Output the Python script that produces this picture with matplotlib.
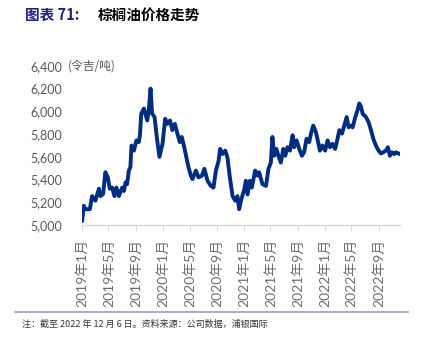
import numpy as np
import pandas as pd
import matplotlib
matplotlib.use("Agg")
import matplotlib.pyplot as plt
import matplotlib.dates as mdates

plt.rcParams['font.family'] = ['Lato', 'Noto Sans CJK SC', 'DejaVu Sans']

# 棕榈油价格 (令吉/吨)
dates = [
    "2019-01-02", "2019-01-10", "2019-01-17", "2019-02-06", "2019-02-16", "2019-03-03",
    "2019-03-19", "2019-03-26", "2019-04-07", "2019-04-17", "2019-04-28", "2019-05-07",
    "2019-05-18", "2019-05-28", "2019-06-06", "2019-06-17", "2019-07-02", "2019-07-10",
    "2019-07-17", "2019-07-24", "2019-08-01", "2019-08-08", "2019-08-13", "2019-08-24",
    "2019-09-04", "2019-09-15", "2019-09-20", "2019-09-26", "2019-10-08", "2019-10-23",
    "2019-10-30", "2019-11-07", "2019-11-14", "2019-11-25", "2019-12-07", "2019-12-17",
    "2019-12-31", "2020-01-12", "2020-01-22", "2020-02-03", "2020-02-13", "2020-02-25",
    "2020-03-07", "2020-03-18", "2020-03-27", "2020-04-07", "2020-04-17", "2020-04-26",
    "2020-05-07", "2020-05-14", "2020-05-30", "2020-06-10", "2020-06-26", "2020-07-07",
    "2020-07-21", "2020-08-05", "2020-08-17", "2020-08-28", "2020-09-09", "2020-09-16",
    "2020-09-27", "2020-10-09", "2020-10-19", "2020-10-30", "2020-11-11", "2020-11-23",
    "2020-12-03", "2020-12-11", "2020-12-19", "2021-01-03", "2021-01-10", "2021-01-18",
    "2021-01-28", "2021-02-06", "2021-02-21", "2021-03-04", "2021-03-11", "2021-03-26",
    "2021-04-11", "2021-04-22", "2021-05-03", "2021-05-10", "2021-05-18", "2021-05-28",
    "2021-06-06", "2021-06-17", "2021-06-28", "2021-07-07", "2021-07-17", "2021-07-28",
    "2021-08-09", "2021-08-16", "2021-08-27", "2021-09-08", "2021-09-20", "2021-09-30",
    "2021-10-11", "2021-10-23", "2021-10-31", "2021-11-10", "2021-11-22", "2021-12-04",
    "2021-12-10", "2021-12-22", "2021-12-30", "2022-01-03", "2022-01-14", "2022-01-25",
    "2022-02-05", "2022-02-17", "2022-02-28", "2022-03-08", "2022-03-20", "2022-03-30",
    "2022-04-10", "2022-04-19", "2022-04-30", "2022-05-07", "2022-05-19", "2022-05-29",
    "2022-06-06", "2022-06-14", "2022-06-21", "2022-07-06", "2022-07-18", "2022-07-29",
    "2022-08-08", "2022-08-20", "2022-09-01", "2022-09-12", "2022-09-22", "2022-10-04",
    "2022-10-13", "2022-10-22", "2022-10-31", "2022-11-11", "2022-11-18", "2022-11-30",
    "2022-12-06",
]
price = [
    5035, 5170, 5140, 5140, 5255, 5215,
    5320, 5255, 5275, 5465, 5420, 5320,
    5330, 5255, 5330, 5255, 5330, 5300,
    5375, 5360, 5480, 5510, 5700, 5655,
    5745, 5730, 5790, 5980, 6025, 5920,
    6010, 6200, 5980, 5950, 5745, 5600,
    5715, 5935, 5890, 5920, 5835, 5890,
    5805, 5730, 5775, 5685, 5595, 5510,
    5435, 5405, 5480, 5420, 5435, 5495,
    5390, 5345, 5330, 5480, 5565, 5670,
    5625, 5655, 5595, 5420, 5255, 5215,
    5255, 5140, 5215, 5315, 5390, 5270,
    5390, 5330, 5480, 5435, 5465, 5360,
    5345, 5495, 5550, 5775, 5610, 5670,
    5610, 5550, 5670, 5610, 5685, 5655,
    5790, 5685, 5745, 5670, 5610, 5640,
    5760, 5730, 5805, 5875, 5820, 5715,
    5655, 5700, 5670, 5655, 5745, 5685,
    5715, 5670, 5760, 5835, 5805, 5875,
    5950, 5860, 5875, 5860, 5950, 6010,
    6070, 6040, 5980, 5950, 5905, 5835,
    5760, 5700, 5655, 5630, 5640, 5655,
    5685, 5610, 5640, 5625, 5640, 5630,
    5625,
]

tick_dates = pd.date_range("2019-01-01", "2022-09-01", freq="4MS")
tick_labels = [f"{d.year}年{d.month}月" for d in tick_dates]
y_ticks = [5000, 5200, 5400, 5600, 5800, 6000, 6200, 6400]

gray = "#595959"
fig = plt.figure(figsize=(4.22, 3.38), dpi=100)
ax = fig.add_axes([0.194, 0.334, 0.754, 0.471])

ax.plot(pd.to_datetime(dates), price, color="#002D7F", linewidth=2.8,
        solid_joinstyle="round", solid_capstyle="round")

ax.set_xlim(pd.Timestamp("2019-01-01"), pd.Timestamp("2022-12-07"))
ax.set_ylim(5000, 6400)
ax.set_yticks(y_ticks)
ax.set_yticklabels([f"{v:,}" for v in y_ticks], color=gray, fontsize=9)
ax.set_xticks(tick_dates)
ax.set_xticklabels(tick_labels, rotation=90, color="#6E6E6E", fontsize=10)
ax.tick_params(axis="y", length=0, pad=14)
ax.tick_params(axis="x", length=4, color="#D9D9D9", pad=6)

for s in ["top", "right", "left"]:
    ax.spines[s].set_visible(False)
ax.spines["bottom"].set_color("#D9D9D9")
ax.spines["bottom"].set_linewidth(1.0)

ax.text(-0.043, 1.0, "(令吉/吨)", transform=ax.transAxes, ha="left", va="center",
        color=gray, fontsize=8.5, family=["Noto Sans CJK SC", "DejaVu Sans"])

fig.text(0.059, 0.955, "图表 71:", color="#1F1F7A", fontsize=10.5, fontweight="bold",
         ha="left", va="center", family=["Noto Sans CJK SC", "DejaVu Sans"])
fig.text(0.232, 0.955, "棕榈油价格走势", color="black", fontsize=10.5, fontweight="bold",
         ha="left", va="center", family=["Noto Sans CJK SC", "DejaVu Sans"])

fig.add_artist(plt.Line2D([0.036, 0.967], [0.077, 0.077], transform=fig.transFigure,
                          color="#9B9BCB", linewidth=1.2))
fig.text(0.052, 0.041, "注：截至 2022 年 12 月 6 日。资料来源：公司数据，浦银国际",
         color="#333333", fontsize=6.5, ha="left", va="center",
         family=["Noto Sans CJK SC", "DejaVu Sans"])

fig.savefig("out.png", dpi=100)
